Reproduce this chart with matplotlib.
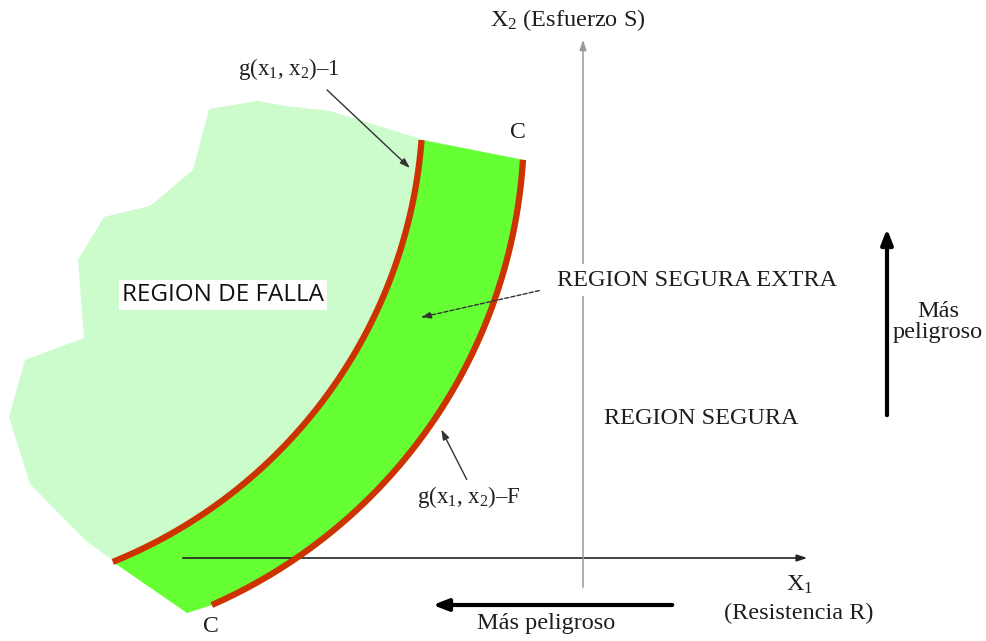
import numpy as np
import matplotlib.pyplot as plt
from matplotlib.patches import Polygon

plt.rcParams['mathtext.fontset'] = 'custom'
plt.rcParams['mathtext.rm'] = 'Liberation Serif'
plt.rcParams['mathtext.it'] = 'Liberation Serif:italic'

# outline of the failure region (pixel coords, y down)
falla_x = [421, 330, 286, 257, 209, 193, 150, 104, 78, 84, 25, 9, 30, 86, 114, 187]
falla_y = [139, 111, 106, 101, 109, 170, 206, 217, 260, 338, 360, 417, 484, 541, 561, 613]

# limit state curves g=1 (inner) and g=F (outer): centre x, centre y, radius, start/end angle (deg)
inner_arc = [-73, 102, 496, 4.4, 68.0]
outer_arc = [2, 127, 522, 3.6, 66.3]
band_tip = (187, 613)

LIGHT = '#CCFBCC'
GREEN = '#66FF33'
RED = '#CC3300'
TXT = '#1e1e1e'


def arc(p, n=120):
    t = np.radians(np.linspace(p[3], p[4], n))
    return p[0] + p[2] * np.cos(t), p[1] + p[2] * np.sin(t)


fig = plt.figure(figsize=(9.86, 6.41), dpi=100)
ax = fig.add_axes([0, 0, 1, 1])
ax.set_xlim(0, 986)
ax.set_ylim(641, 0)
ax.axis('off')

ix, iy = arc(inner_arc)
ox, oy = arc(outer_arc)

# light green failure region, closed along the outer curve (band covers the rest)
lx = list(falla_x) + list(ox[::-1])
ly = list(falla_y) + list(oy[::-1])
ax.add_patch(Polygon(np.column_stack([lx, ly]), closed=True, fc=LIGHT, ec='none', zorder=1))

# extra safe band between the curves
bx = list(ix) + [band_tip[0]] + list(ox[::-1])
by = list(iy) + [band_tip[1]] + list(oy[::-1])
ax.add_patch(Polygon(np.column_stack([bx, by]), closed=True, fc=GREEN, ec='none', zorder=2))

# axes
ax.annotate('', xy=(810, 558), xytext=(180, 558), zorder=3,
            arrowprops=dict(arrowstyle='-|>,head_length=0.6,head_width=0.2', color='#222222', lw=1.2))
ax.annotate('', xy=(583, 37), xytext=(583, 590), zorder=3,
            arrowprops=dict(arrowstyle='-|>,head_length=0.6,head_width=0.2', color='#999999', lw=1.1))

ax.plot(ix, iy, color=RED, lw=4.5, solid_capstyle='butt', zorder=4)
ax.plot(ox, oy, color=RED, lw=4.5, solid_capstyle='butt', zorder=4)

# "mas peligroso" arrows
thick = dict(arrowstyle='-|>,head_length=0.9,head_width=0.35', color='black', lw=3)
ax.annotate('', xy=(430, 605), xytext=(675, 605), arrowprops=thick, zorder=5)
ax.annotate('', xy=(887, 226), xytext=(887, 418), arrowprops=thick, zorder=5)

# pointer arrows
thin = dict(arrowstyle='-|>,head_length=0.6,head_width=0.2', color='#333333', lw=1)
ax.annotate('', xy=(412, 170), xytext=(325, 88), arrowprops=thin, zorder=5)
ax.annotate('', xy=(440, 427), xytext=(468, 482), arrowprops=thin, zorder=5)
ax.annotate('', xy=(418, 318), xytext=(542, 290), zorder=5,
            arrowprops=dict(arrowstyle='-|>,head_length=0.6,head_width=0.2', color='#333333',
                            lw=1, linestyle=(0, (3, 1.5))))

serif = 'Liberation Serif'
ax.text(289, 69, 'g(x$_1$, x$_2$)\u20131', family=serif, fontsize=16.5,
        color=TXT, ha='center', va='center')
ax.text(469, 497, 'g(x$_1$, x$_2$)\u2013F', family=serif, fontsize=16.5,
        color=TXT, ha='center', va='center')
ax.text(518, 133, 'C', family=serif, fontsize=17, color=TXT, ha='center', va='center')
ax.text(211, 626, 'C', family=serif, fontsize=17, color=TXT, ha='center', va='center')
ax.text(223, 295, 'REGION DE FALLA', family='Open Sans', fontsize=17.5, color='#111111',
        ha='center', va='center', zorder=6,
        bbox=dict(fc='white', ec='none', pad=2))
ax.text(697, 280, 'REGION SEGURA EXTRA', family=serif, fontsize=17.5, color=TXT,
        ha='center', va='center', zorder=6, bbox=dict(fc='white', ec='none', pad=4))
ax.text(701, 418, 'REGION SEGURA', family=serif, fontsize=17.5, color=TXT,
        ha='center', va='center')
ax.text(938, 322, 'Más\npeligroso', family=serif, fontsize=17.5, color=TXT,
        ha='center', va='center', linespacing=1.0)
ax.text(568, 20, 'X$_2$ (Esfuerzo S)', family=serif, fontsize=17.5, color=TXT,
        ha='center', va='center')
ax.text(800, 585, 'X$_1$', family=serif, fontsize=17.5, color=TXT,
        ha='center', va='center')
ax.text(799, 613, '(Resistencia R)', family=serif, fontsize=17.5, color=TXT,
        ha='center', va='center')
ax.text(546, 623, 'Más peligroso', family=serif, fontsize=17.5, color=TXT,
        ha='center', va='center')

fig.savefig('out.png', dpi=100)
